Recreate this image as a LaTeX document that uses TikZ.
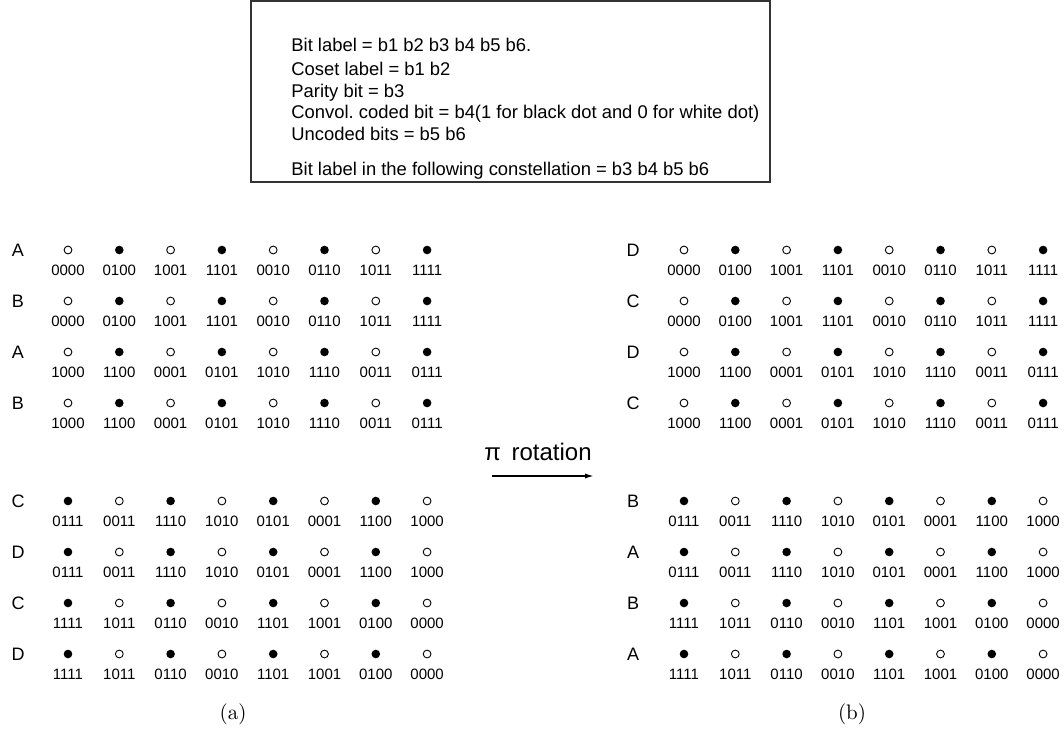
\documentclass[tikz,border=0pt]{standalone}
\usepackage{fontspec}
\setmainfont{Liberation Sans}
\newfontfamily\capfont{Latin Modern Roman}
\usetikzlibrary{positioning,arrows.meta}
\frenchspacing

\begin{document}
\begin{tikzpicture}[x=0.5pt,y=-0.5pt,
  lab/.style={font=\fontsize{7.5}{8}\selectfont,inner sep=0pt},
  rowlab/.style={font=\fontsize{9}{10}\selectfont,inner sep=0pt},
  legtxt/.style={font=\fontsize{9.2}{11}\selectfont,inner sep=0pt,anchor=base west},
  dotw/.style={circle,draw,line width=0.45pt,minimum size=3.9pt,inner sep=0pt},
  dotb/.style={circle,fill=black,minimum size=4.3pt,inner sep=0pt},
  subcap/.style={font=\capfont\fontsize{10.5}{12}\selectfont,inner sep=0pt}]
\useasboundingbox (0,0) rectangle (1064,728);
\def\colw{51.3}
\def\rowA{0000/w,0100/b,1001/w,1101/b,0010/w,0110/b,1011/w,1111/b}
\def\rowB{1000/w,1100/b,0001/w,0101/b,1010/w,1110/b,0011/w,0111/b}
\def\rowC{0111/b,0011/w,1110/b,1010/w,0101/b,0001/w,1100/b,1000/w}
\def\rowD{1111/b,1011/w,0110/b,0010/w,1101/b,1001/w,0100/b,0000/w}
% legend
\draw[line width=0.6pt,black!80] (251,1) rectangle (770,182);
\foreach \y/\txt [count=\i] in {44/{Bit label = b1 b2 b3 b4 b5 b6.},68/{Coset label = b1 b2},
  90/{Parity bit = b3},111/{Convol. coded bit = b4(1 for black dot and 0 for white dot)},
  133/{Uncoded bits = b5 b6},168/{Bit label in the following constellation = b3 b4 b5 b6}}{
  \node[legtxt] (leg\i) at (291,\y+7) {\txt};
}
% constellations (a) and (b)
\foreach \y/\r/\letL/\letR [count=\j] in {250/A/A/D,301/A/B/C,352/B/A/D,403/B/B/C,
  501/C/C/B,552/C/D/A,603/D/C/B,654/D/D/A}{
  \edef\thisrow{\csname row\r\endcsname}
  \node[rowlab] (la\j) at (18,\y) {\letL};
  \node[rowlab] (lb\j) at (633,\y) {\letR};
  \foreach \lab/\f [count=\k from 0] in \thisrow{
    \node[dot\f] (pa\j-\k) at (68+\k*\colw,\y) {};
    \node[lab] (ta\j-\k) at (68+\k*\colw,\y+20) {\lab};
    \node[dot\f] (pb\j-\k) at (684+\k*\colw,\y) {};
    \node[lab] (tb\j-\k) at (684+\k*\colw,\y+20) {\lab};
  }
}
% rotation arrow
\coordinate (rs) at (492,476);
\coordinate (re) at (594,476);
\draw[line width=0.8pt,-{Latex[length=4.5pt,width=2.6pt]}] (rs) -- (re);
\node[font=\fontsize{12}{14}\selectfont,inner sep=0pt] (rot) at (538,452) {π\,\ rotation};
\node[subcap] (capa) at (233,714) {(a)};
\node[subcap] (capb) at (852,714) {(b)};
\end{tikzpicture}
\end{document}
